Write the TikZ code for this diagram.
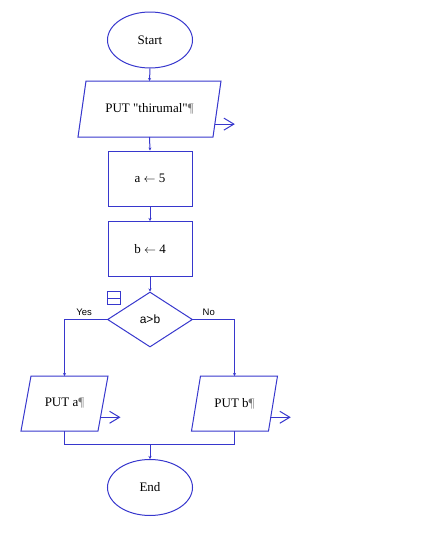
\documentclass[tikz,border=0pt]{standalone}
\usepackage{fontspec}
\setmainfont{Liberation Serif}[Ligatures=TeXOff]
\newfontfamily\sansf{Liberation Sans}
\usetikzlibrary{shapes.geometric,arrows.meta,calc}
\definecolor{fc}{RGB}{55,55,205}
\definecolor{pil}{RGB}{120,120,120}
\newcommand{\pil}{\textcolor{pil}{¶}}
\newcommand{\drawpara}[2]{\draw[line] ([xshift=#2]#1.north west) -- ([xshift=#2]#1.north east) -- ([xshift=-#2]#1.south east) -- ([xshift=-#2]#1.south west) -- cycle;}
\begin{document}
\begin{tikzpicture}[x=1pt,y=-1pt,
 every node/.style={font=\fontsize{13}{15}\selectfont, inner sep=0pt},
 line/.style={draw=fc, line width=1pt},
 term/.style={ellipse, line, minimum width=85pt, minimum height=56pt},
 proc/.style={rectangle, line, minimum width=84pt, minimum height=55pt},
 io/.style={rectangle, outer sep=0pt, minimum height=56pt},
 dec/.style={diamond, line, minimum width=85pt, minimum height=55pt},
 flow/.style={line, -{Stealth[length=3pt,width=3pt]}},
 outarr/.style={line, -{Straight Barb[length=10pt,width=12pt]}},
 lbl/.style={font=\sansf\fontsize{9.5}{11}\selectfont}
]
\useasboundingbox (0,0) rectangle (429,550);
\node[term] (start) at (150,40) {Start};
\node[io, minimum width=135pt] (p1) at (149.5,109) {PUT "thirumal"\pil};
\drawpara{p1}{4pt}
\node[proc] (a5) at (150,178.5) {a $\leftarrow$ 5};
\node[proc] (b4) at (150,249) {b $\leftarrow$ 4};
\node[dec, font=\sansf\fontsize{12}{14}\selectfont] (d) at (150,319.5) {a>b};
\node[io, minimum width=77pt, minimum height=55pt] (pa) at (64.5,403.5) {PUT a\pil};
\drawpara{pa}{5pt}
\node[io, minimum width=77pt, minimum height=55pt] (pb) at (234.5,403.5) {PUT b\pil};
\drawpara{pb}{4.5pt}
\node[term] (end) at (150,487.5) {End};
\node[line, minimum size=13pt] (ic) at (114,298) {};
\draw[line] (ic.west) -- (ic.east);
\draw[flow] (start.south) -- (p1.north);
\draw[flow] (p1.south) -- (a5.north);
\draw[flow] (a5.south) -- (b4.north);
\draw[flow] (b4.south) -- (d.north);
\draw[flow] (d.west) -| node[lbl, pos=0.27, above=3pt]{Yes} (pa.north);
\draw[flow] (d.east) -| node[lbl, pos=0.19, above=3pt]{No} (pb.north);
\coordinate (j) at (150,444);
\draw[line] (pa.south) |- (j);
\draw[line] (pb.south) |- (j);
\draw[flow] (j) -- (end.north);
\coordinate (o1s) at ($([xshift=-4pt]p1.south east)!0.23!([xshift=4pt]p1.north east)$);
\coordinate (o1e) at ($(o1s)+(20,0)$);
\draw[outarr] (o1s) -- (o1e);
\coordinate (oas) at ($([xshift=-5pt]pa.south east)!0.25!([xshift=5pt]pa.north east)$);
\coordinate (oae) at ($(oas)+(20,0)$);
\draw[outarr] (oas) -- (oae);
\coordinate (obs) at ($([xshift=-4.5pt]pb.south east)!0.25!([xshift=4.5pt]pb.north east)$);
\coordinate (obe) at ($(obs)+(20,0)$);
\draw[outarr] (obs) -- (obe);
\end{tikzpicture}
\end{document}
